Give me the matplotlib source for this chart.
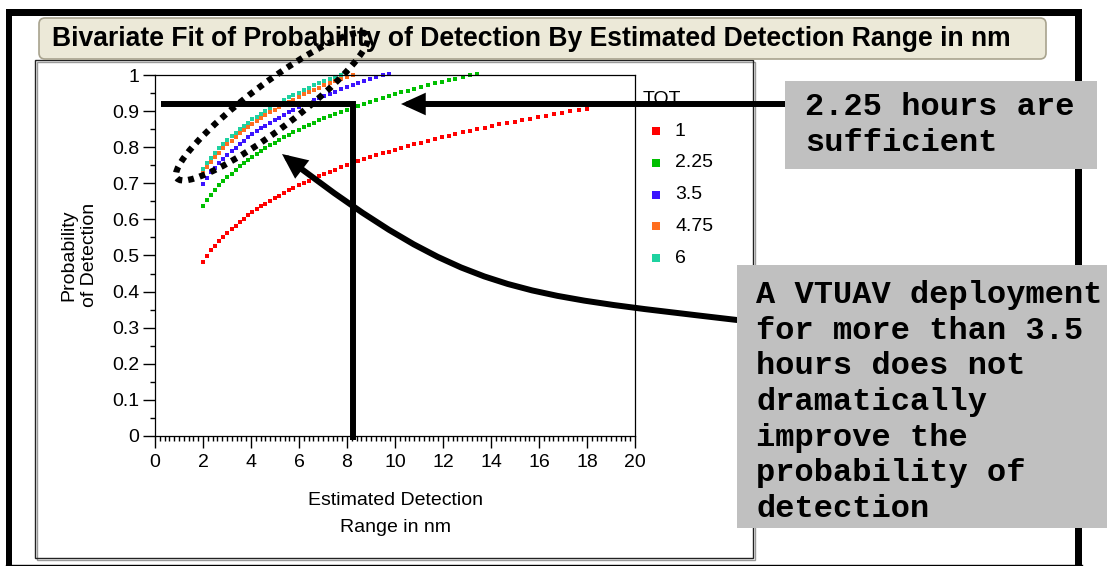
import matplotlib
matplotlib.use("Agg")
import matplotlib.pyplot as plt
from matplotlib.patches import Rectangle, FancyBboxPatch, FancyArrowPatch, Ellipse
from matplotlib.path import Path
from matplotlib.ticker import MultipleLocator, FuncFormatter

plt.rcParams['font.family'] = ['Liberation Sans', 'DejaVu Sans']

# Estimated detection range (nm) of the fitted points, shared by all TOT series
range_nm = [2.0, 2.17, 2.34, 2.51, 2.68, 2.85, 3.02, 3.19, 3.36, 3.53,
            3.70, 3.88, 4.06, 4.24, 4.42, 4.60, 4.79, 4.98, 5.17, 5.37,
            5.57, 5.77, 5.98, 6.19, 6.40, 6.62, 6.84, 7.06, 7.29, 7.52,
            7.75, 7.99, 8.23, 8.47, 8.72, 8.97, 9.22, 9.48, 9.74, 10.0,
            10.27, 10.54, 10.81, 11.09, 11.37, 11.65, 11.94, 12.23, 12.52, 12.82,
            13.12, 13.42, 13.73, 14.04, 14.35, 14.67, 14.99, 15.31, 15.64, 15.97,
            16.30, 16.63, 16.97, 17.31, 17.65, 18.0]

# Probability of detection per time on target (TOT, hours)
pod_tot1 = [0.483, 0.499, 0.514, 0.527, 0.540, 0.552, 0.563, 0.573, 0.583, 0.593,
            0.602, 0.611, 0.620, 0.628, 0.636, 0.644, 0.652, 0.659, 0.666, 0.674,
            0.681, 0.687, 0.694, 0.701, 0.707, 0.714, 0.720, 0.726, 0.732, 0.738,
            0.744, 0.750, 0.756, 0.761, 0.767, 0.772, 0.778, 0.783, 0.788, 0.793,
            0.798, 0.803, 0.808, 0.813, 0.818, 0.823, 0.827, 0.832, 0.836, 0.841,
            0.846, 0.850, 0.854, 0.859, 0.863, 0.867, 0.871, 0.875, 0.879, 0.883,
            0.887, 0.891, 0.895, 0.899, 0.903, 0.906]
pod_tot225 = [0.637, 0.653, 0.668, 0.681, 0.694, 0.706, 0.717, 0.727, 0.737, 0.747,
              0.756, 0.765, 0.774, 0.782, 0.790, 0.798, 0.806, 0.813, 0.820, 0.828,
              0.835, 0.841, 0.848, 0.855, 0.861, 0.868, 0.874, 0.880, 0.886, 0.892,
              0.898, 0.904, 0.910, 0.915, 0.921, 0.926, 0.932, 0.937, 0.942, 0.947,
              0.952, 0.957, 0.962, 0.967, 0.972, 0.977, 0.981, 0.986, 0.990, 0.995,
              1.000, 1.004]
pod_tot35 = [0.699, 0.715, 0.730, 0.743, 0.756, 0.768, 0.779, 0.789, 0.799, 0.809,
             0.818, 0.827, 0.836, 0.844, 0.852, 0.860, 0.868, 0.875, 0.882, 0.890,
             0.897, 0.903, 0.910, 0.917, 0.923, 0.930, 0.936, 0.942, 0.948, 0.954,
             0.960, 0.966, 0.972, 0.977, 0.983, 0.988, 0.994, 0.999, 1.004]
pod_tot475 = [0.728, 0.744, 0.759, 0.772, 0.785, 0.797, 0.808, 0.818, 0.828, 0.838,
              0.847, 0.856, 0.865, 0.873, 0.881, 0.889, 0.897, 0.904, 0.911, 0.919,
              0.926, 0.932, 0.939, 0.946, 0.952, 0.959, 0.965, 0.971, 0.977, 0.983,
              0.989, 0.995, 1.001]
pod_tot6 = [0.740, 0.756, 0.771, 0.784, 0.797, 0.809, 0.820, 0.830, 0.840, 0.850,
            0.859, 0.868, 0.877, 0.885, 0.893, 0.901, 0.909, 0.916, 0.923, 0.931,
            0.938, 0.944, 0.951, 0.958, 0.964, 0.971, 0.977, 0.983, 0.989, 0.995,
            1.001, 1.007]

tot_labels = ['1', '2.25', '3.5', '4.75', '6']
tot_series = [pod_tot1, pod_tot225, pod_tot35, pod_tot475, pod_tot6]
tot_colors = ['#FF0000', '#00BF00', '#3C14FF', '#FF6E1E', '#1ED2A0']

title = 'Bivariate Fit of Probability of Detection By Estimated Detection Range in nm'
note_short = '2.25 hours are\nsufficient'
note_long = ('A VTUAV deployment\nfor more than 3.5\nhours does not\ndramatically\n'
             'improve the\nprobability of\ndetection')

W, H = 1107, 566
fig = plt.figure(figsize=(W / 100, H / 100), dpi=100)


def box(x0, y0, x1, y1):
    # pixel box (y down) -> figure fraction rect
    return [x0 / W, 1 - y1 / H, (x1 - x0) / W, (y1 - y0) / H]


# background layer: slide frame, report frame, title bar
bg = fig.add_axes([0, 0, 1, 1], zorder=0)
bg.set_xlim(0, W)
bg.set_ylim(H, 0)
bg.axis('off')
bg.add_patch(Rectangle((6, 9), 6, H - 9, fc='k', ec='none'))
bg.add_patch(Rectangle((6, 9), 1076, 7, fc='k', ec='none'))
bg.add_patch(Rectangle((1075, 9), 7, H - 9, fc='k', ec='none'))
bg.plot([6, 1082], [564.5, 564.5], color='k', lw=1)
bg.add_patch(Rectangle((36.5, 61.5), 718, 498, fc='none', ec='#9a9a9a', lw=1))
bg.add_patch(Rectangle((35, 60), 718, 498, fc='none', ec='#222222', lw=1))
bg.add_patch(FancyBboxPatch((39, 18), 1007, 41, boxstyle='round,pad=0,rounding_size=6',
                            fc='#ECE9D8', ec='#A8A38E', lw=1.2))
bg.text(52, 39, title, fontsize=19.1, fontweight='bold', ha='left', va='center')

# legend
bg.text(643, 99, 'TOT', fontsize=14, ha='left', va='center')
for i, (lab, col) in enumerate(zip(tot_labels, tot_colors)):
    yy = 131 + 31.8 * i
    bg.plot(656, yy, 's', ms=5.5, mew=0, color=col)
    bg.text(675, yy, lab, fontsize=14, ha='left', va='center')

# main plot
ax = fig.add_axes(box(155, 75, 635, 436), zorder=1)
ax.patch.set_alpha(0)
for y, col in zip(tot_series, tot_colors):
    ax.plot(range_nm[:len(y)], y, 's', ms=2.8, mew=0, color=col, clip_on=False)
ax.set_xlim(0, 20)
ax.set_ylim(0, 1)
ax.xaxis.set_major_locator(MultipleLocator(2))
ax.xaxis.set_minor_locator(MultipleLocator(0.2))
ax.yaxis.set_major_locator(MultipleLocator(0.1))
ax.yaxis.set_minor_locator(MultipleLocator(0.05))
ax.yaxis.set_major_formatter(FuncFormatter(lambda v, _: f'{v:g}'))
ax.tick_params(which='major', length=8.6, width=1, labelsize=14, pad=2.5, direction='out')
ax.tick_params(axis='x', which='major', pad=4.5)
ax.tick_params(which='minor', length=3.8, width=1, direction='out')
for s in ax.spines.values():
    s.set_linewidth(0.9)

fig.text(79 / W, 1 - 255 / H, 'Probability\nof Detection', rotation=90, fontsize=14,
         ha='center', va='center', linespacing=1.3)
fig.text(395 / W, 1 - 514 / H, 'Estimated Detection\nRange in nm', fontsize=14,
         ha='center', va='center', linespacing=1.75)

# foreground annotations
fg = fig.add_axes([0, 0, 1, 1], zorder=2)
fg.set_xlim(0, W)
fg.set_ylim(H, 0)
fg.axis('off')
fg.patch.set_alpha(0)

fg.plot([161, 353, 353], [104, 104, 440], color='k', lw=4.3,
        solid_joinstyle='miter', solid_capstyle='butt')
fg.add_patch(FancyArrowPatch((785, 104), (401, 104),
                             arrowstyle='-|>,head_length=10.5,head_width=4.8',
                             mutation_scale=1, lw=4.3, color='k', joinstyle='miter',
                             shrinkA=0, shrinkB=0))
curve = Path([(737, 320), (517, 294), (464, 294), (282, 154)],
             [Path.MOVETO, Path.CURVE4, Path.CURVE4, Path.CURVE4])
fg.add_patch(FancyArrowPatch(path=curve, arrowstyle='-|>,head_length=11,head_width=5',
                             mutation_scale=1, lw=4.3, color='k', joinstyle='miter',
                             transform=fg.transData))
fg.add_patch(Ellipse((272, 106.5), 238, 46, angle=-37, fill=False, ec='k', lw=4.5,
                     linestyle=(0, (0.95, 0.95)), capstyle='butt', zorder=4))

fg.add_patch(Rectangle((785, 81), 312, 88, fc='#C0C0C0', ec='none', zorder=5))
fg.text(805, 125, note_short, family=['Liberation Mono', 'DejaVu Sans Mono'],
        fontweight='bold', fontsize=23, ha='left', va='center', linespacing=1.27, zorder=6)
fg.add_patch(Rectangle((737, 265), 370, 263, fc='#C0C0C0', ec='none', zorder=5))
fg.text(756, 402, note_long, family=['Liberation Mono', 'DejaVu Sans Mono'],
        fontweight='bold', fontsize=23, ha='left', va='center', linespacing=1.24, zorder=6)

fig.savefig('out.png', dpi=100)
